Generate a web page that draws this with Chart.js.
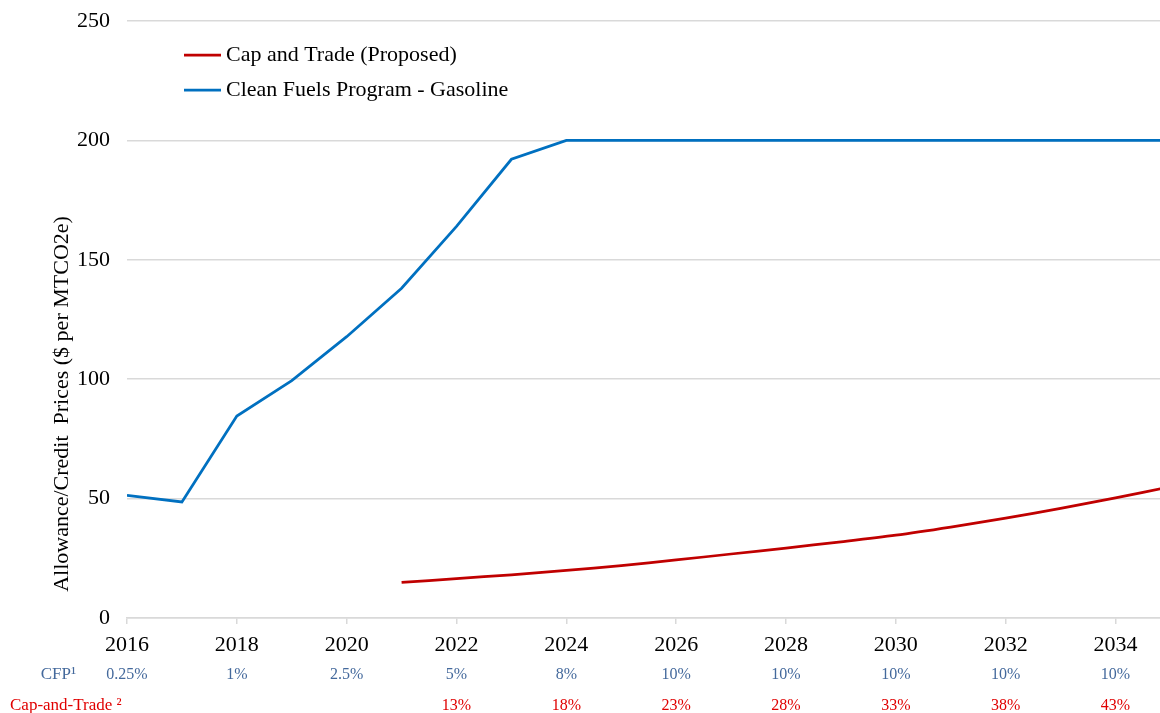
<!DOCTYPE html>
<html>
<head>
<meta charset="utf-8">
<script src="https://cdn.jsdelivr.net/npm/chart.js@4.4.0/dist/chart.umd.min.js"></script>
<style>
  html, body { margin: 0; padding: 0; background: #fff; }
</style>
</head>
<body>
<canvas id="price_chart" width="1160" height="713"></canvas>
<script>
var YEARS = [2016, 2017, 2018, 2019, 2020, 2021, 2022, 2023, 2024, 2025, 2026, 2027, 2028, 2029, 2030, 2031, 2032, 2033, 2034, 2035];
var CAP_PRICES = [null, null, null, null, null, 14.9, 16.5, 18.1, 19.9, 21.9, 24.3, 26.8, 29.3, 31.9, 34.7, 38.1, 41.8, 45.9, 50.3, 55.0];
var CFP_PRICES = [51.4, 48.6, 84.6, 99.4, 117.8, 138.1, 164.0, 192.1, 200, 200, 200, 200, 200, 200, 200, 200, 200, 200, 200, 200];
var SERIES_NAMES = ["Cap and Trade (Proposed)", "Clean Fuels Program - Gasoline"];
var SERIES_COLORS = ["#C00000", "#0070C0"];
var Y_TITLE = "Allowance/Credit  Prices ($ per MTCO2e)";

// percentages shown under the year labels
var TICK_YEARS = [2016, 2018, 2020, 2022, 2024, 2026, 2028, 2030, 2032, 2034];
var CFP_TARGETS = ["0.25%", "1%", "2.5%", "5%", "8%", "10%", "10%", "10%", "10%", "10%"];
var CAP_TARGETS = ["", "", "", "13%", "18%", "23%", "28%", "33%", "38%", "43%"];

var SERIF = "'Liberation Serif', 'Times New Roman', serif";

function toPoints(values) {
  var pts = [];
  for (var i = 0; i < YEARS.length; i++) {
    if (values[i] !== null) pts.push({ x: YEARS[i], y: values[i] });
  }
  return pts;
}

// legend drawn inside the plot, top left
var insideLegend = {
  id: "insideLegend",
  afterDraw: function (chart) {
    var ctx = chart.ctx, area = chart.chartArea;
    ctx.save();
    ctx.font = "22px " + SERIF;
    ctx.textBaseline = "middle";
    ctx.textAlign = "left";
    for (var i = 0; i < SERIES_NAMES.length; i++) {
      var y = area.top + 34 + i * 35;
      var x = area.left + 57;
      ctx.strokeStyle = SERIES_COLORS[i];
      ctx.lineWidth = 2.75;
      ctx.beginPath();
      ctx.moveTo(x, y);
      ctx.lineTo(x + 37, y);
      ctx.stroke();
      ctx.fillStyle = "#000";
      ctx.fillText(SERIES_NAMES[i], x + 42, y);
    }
    ctx.restore();
  }
};

// y axis title + the CFP / cap-and-trade rows under the x axis
var extraText = {
  id: "extraText",
  afterDraw: function (chart) {
    var ctx = chart.ctx, area = chart.chartArea, xs = chart.scales.x;
    ctx.save();
    ctx.fillStyle = "#000";
    ctx.font = "22px " + SERIF;
    ctx.textAlign = "center";
    ctx.textBaseline = "middle";
    ctx.translate(62, 404);
    ctx.rotate(-Math.PI / 2);
    ctx.fillText(Y_TITLE, 0, 0);
    ctx.restore();

    ctx.save();
    ctx.textBaseline = "middle";
    var rowCfp = area.bottom + 57;
    var rowCap = area.bottom + 88;
    ctx.font = "17px " + SERIF;
    ctx.textAlign = "right";
    ctx.fillStyle = "#44699C";
    ctx.fillText("CFP\u00B9", 76, rowCfp);
    ctx.textAlign = "left";
    ctx.fillStyle = "#E00000";
    ctx.fillText("Cap-and-Trade \u00B2", 10, rowCap);
    ctx.font = "16px " + SERIF;
    ctx.textAlign = "center";
    for (var i = 0; i < TICK_YEARS.length; i++) {
      var px = xs.getPixelForValue(TICK_YEARS[i]);
      ctx.fillStyle = "#44699C";
      ctx.fillText(CFP_TARGETS[i], px, rowCfp);
      ctx.fillStyle = "#E00000";
      ctx.fillText(CAP_TARGETS[i], px, rowCap);
    }
    ctx.restore();
  }
};

var chart = new Chart(document.getElementById("price_chart"), {
  type: "line",
  data: {
    datasets: [
      {
        label: SERIES_NAMES[0],
        data: toPoints(CAP_PRICES),
        borderColor: SERIES_COLORS[0],
        borderWidth: 2.75,
        pointRadius: 0,
        tension: 0.3,
        fill: false
      },
      {
        label: SERIES_NAMES[1],
        data: toPoints(CFP_PRICES),
        borderColor: SERIES_COLORS[1],
        borderWidth: 2.75,
        pointRadius: 0,
        tension: 0,
        fill: false
      }
    ]
  },
  options: {
    responsive: false,
    animation: false,
    devicePixelRatio: 1,
    layout: { padding: { top: 21, right: 0, left: 0, bottom: 0 } },
    plugins: {
      legend: { display: false },
      tooltip: { enabled: false }
    },
    scales: {
      x: {
        type: "linear",
        min: 2016,
        max: 2034.81,
        afterFit: function (s) { s.height = 95; },
        border: { display: true, color: "#D9D9D9", width: 1.5 },
        grid: { drawOnChartArea: false, drawTicks: true, tickLength: 6, color: "#D9D9D9", lineWidth: 1.5 },
        ticks: {
          stepSize: 2,
          includeBounds: false,
          padding: 8,
          maxRotation: 0,
          color: "#000",
          font: { family: SERIF, size: 22 },
          callback: function (v) { return String(v); }
        }
      },
      y: {
        min: 0,
        max: 250,
        afterFit: function (s) {
          s.width = 127;
          // the tick padding would otherwise push the plot top down
          s.paddingTop = 0;
          s.paddingBottom = 0;
        },
        border: { display: false },
        grid: { drawTicks: false, color: "#D9D9D9", lineWidth: 1.5 },
        ticks: {
          stepSize: 50,
          padding: 17,
          color: "#000",
          font: { family: SERIF, size: 22 }
        }
      }
    }
  },
  plugins: [insideLegend, extraText]
});
</script>
</body>
</html>
